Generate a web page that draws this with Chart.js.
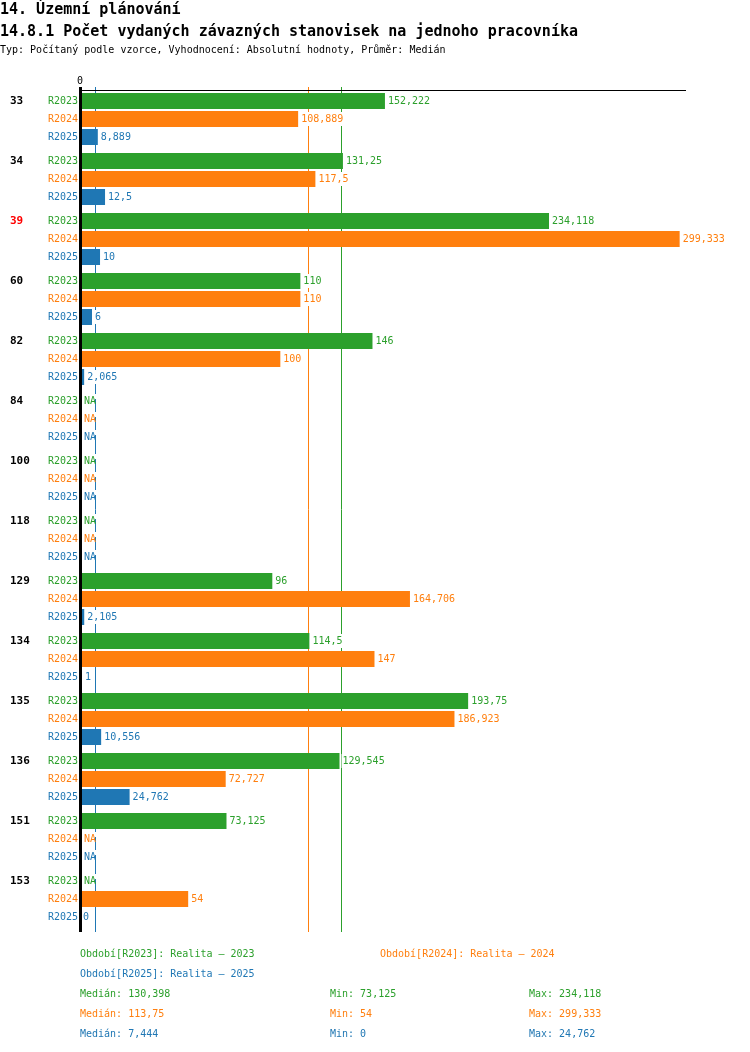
<!DOCTYPE html>
<html>
<head>
<meta charset="utf-8">
<script src="https://cdn.jsdelivr.net/npm/chart.js@4/dist/chart.umd.min.js"></script>
<style>
  body { margin: 0; width: 750px; height: 1052px; position: relative; background: #fff; overflow: hidden;
         font-family: "DejaVu Sans Mono", "Liberation Mono", monospace; }
  #chart { position: absolute; left: 0; top: 0; width: 750px; height: 1052px; }
  .title { position: absolute; left: 0; white-space: pre; font-weight: bold; font-size: 15px; line-height: 16px; color: #000; }
  .small { position: absolute; white-space: pre; font-size: 10px; line-height: 12px; }
</style>
</head>
<body>
<canvas id="chart" width="750" height="1052"></canvas>
<div class="title" style="top:1px">14. Územní plánování</div>
<div class="title" style="top:23px">14.8.1 Počet vydaných závazných stanovisek na jednoho pracovníka</div>
<div class="small" style="top:44px;left:0;color:#000">Typ: Počítaný podle vzorce, Vyhodnocení: Absolutní hodnoty, Průměr: Medián</div>
<div id="footer"></div>
<script>
// Data
const groups = ['33', '34', '39', '60', '82', '84', '100', '118', '129', '134', '135', '136', '151', '153'];
const highlighted = ['39'];
const seriesNames = ['R2023', 'R2024', 'R2025'];
const seriesTitles = ['Realita - 2023', 'Realita - 2024', 'Realita - 2025'];
const r2023 = [152.222, 131.25, 234.118, 110, 146, null, null, null, 96, 114.5, 193.75, 129.545, 73.125, null];
const r2024 = [108.889, 117.5, 299.333, 110, 100, null, null, null, 164.706, 147, 186.923, 72.727, null, 54];
const r2025 = [8.889, 12.5, 10, 6, 2.065, null, null, null, 2.105, 1, 10.556, 24.762, null, 0];
const medians = [130.398, 113.75, 7.444];
const mins = [73.125, 54, 0];
const maxs = [234.118, 299.333, 24.762];
const xTicks = [0];

const colors = ['#2ca02c', '#ff7f0e', '#1f77b4'];
const seriesData = [r2023, r2024, r2025];
const FONT = '"DejaVu Sans Mono", "Liberation Mono", monospace';

function fmt(v) {
    return String(v).replace('.', ',');
}

// footer legend + stats
const footer = document.getElementById('footer');
function addText(text, left, top, color) {
    const d = document.createElement('div');
    d.className = 'small';
    d.style.left = left + 'px';
    d.style.top = top + 'px';
    d.style.color = color;
    d.textContent = text;
    footer.appendChild(d);
}
addText('Období[' + seriesNames[0] + ']: ' + seriesTitles[0].replace(' - ', ' – '), 80, 948, colors[0]);
addText('Období[' + seriesNames[1] + ']: ' + seriesTitles[1].replace(' - ', ' – '), 380, 948, colors[1]);
addText('Období[' + seriesNames[2] + ']: ' + seriesTitles[2].replace(' - ', ' – '), 80, 968, colors[2]);
for (let i = 0; i < 3; i++) {
    const top = 988 + i * 20;
    addText('Medián: ' + fmt(medians[i]), 80, top, colors[i]);
    addText('Min: ' + fmt(mins[i]), 330, top, colors[i]);
    addText('Max: ' + fmt(maxs[i]), 529, top, colors[i]);
}

// row position of a series inside a group slot
function rowY(chart, groupIndex, seriesIndex) {
    const y = chart.scales.y;
    const slot = y.getPixelForValue(1) - y.getPixelForValue(0);
    const pitch = slot * 0.9 / 3;
    return y.getPixelForValue(groupIndex) + (seriesIndex - 1) * pitch;
}

const annotations = {
    id: 'annotations',
    beforeDatasetsDraw(chart) {
        const ctx = chart.ctx;
        const area = chart.chartArea;
        ctx.save();
        ctx.lineWidth = 1;
        medians.forEach((m, i) => {
            const x = Math.round(chart.scales.x.getPixelForValue(m)) + 0.5;
            ctx.strokeStyle = colors[i];
            ctx.beginPath();
            ctx.moveTo(x, area.top - 2);
            ctx.lineTo(x, area.bottom + 3);
            ctx.stroke();
        });
        ctx.restore();
    },
    afterDatasetsDraw(chart) {
        const ctx = chart.ctx;
        const area = chart.chartArea;
        const xs = chart.scales.x;
        ctx.save();
        // axes
        ctx.fillStyle = '#000';
        ctx.fillRect(area.left, area.top + 1, area.right - area.left + 1, 1);
        ctx.fillRect(area.left - 1, area.top - 2, 3, area.bottom + 3 - (area.top - 2));
        ctx.font = '10px ' + FONT;
        ctx.textAlign = 'center';
        ctx.textBaseline = 'middle';
        xTicks.forEach(t => ctx.fillText(fmt(t), xs.getPixelForValue(t), area.top - 8));

        groups.forEach((g, j) => {
            // group label
            ctx.font = 'bold 11px ' + FONT;
            ctx.textAlign = 'left';
            ctx.fillStyle = highlighted.includes(g) ? '#ff0000' : '#000';
            ctx.fillText(g, 10, rowY(chart, j, 0));
            seriesData.forEach((data, i) => {
                const y = rowY(chart, j, i);
                const v = data[j];
                ctx.font = '10px ' + FONT;
                ctx.fillStyle = colors[i];
                ctx.textAlign = 'right';
                ctx.fillText(seriesNames[i], area.left - 2, y);
                // value label on a white box (hides the median lines behind it)
                const text = v === null ? 'NA' : fmt(v);
                const x = v === null ? area.left + 4 : xs.getPixelForValue(v) + 3;
                const w = ctx.measureText(text).width;
                ctx.fillStyle = '#fff';
                if (v === null) {
                    ctx.fillRect(x - 1, y - 7, w + 2, 5);
                } else {
                    ctx.fillRect(x - 1, y - 7, w + 2, 14);
                }
                ctx.fillStyle = colors[i];
                ctx.textAlign = 'left';
                ctx.fillText(text, x, y);
            });
        });
        ctx.restore();
    }
};

new Chart(document.getElementById('chart'), {
    type: 'bar',
    data: {
        labels: groups,
        datasets: seriesData.map((data, i) => ({
            label: seriesNames[i],
            data: data,
            backgroundColor: colors[i],
            borderWidth: 0,
            categoryPercentage: 0.9,
            barPercentage: 16 / 18
        }))
    },
    options: {
        indexAxis: 'y',
        responsive: false,
        animation: false,
        layout: { padding: { left: 80, right: 65, top: 89, bottom: 123 } },
        scales: {
            x: { type: 'linear', min: 0, max: 302, display: false },
            y: { display: false }
        },
        plugins: {
            legend: { display: false },
            tooltip: { enabled: false }
        }
    },
    plugins: [annotations]
});
</script>
</body>
</html>
